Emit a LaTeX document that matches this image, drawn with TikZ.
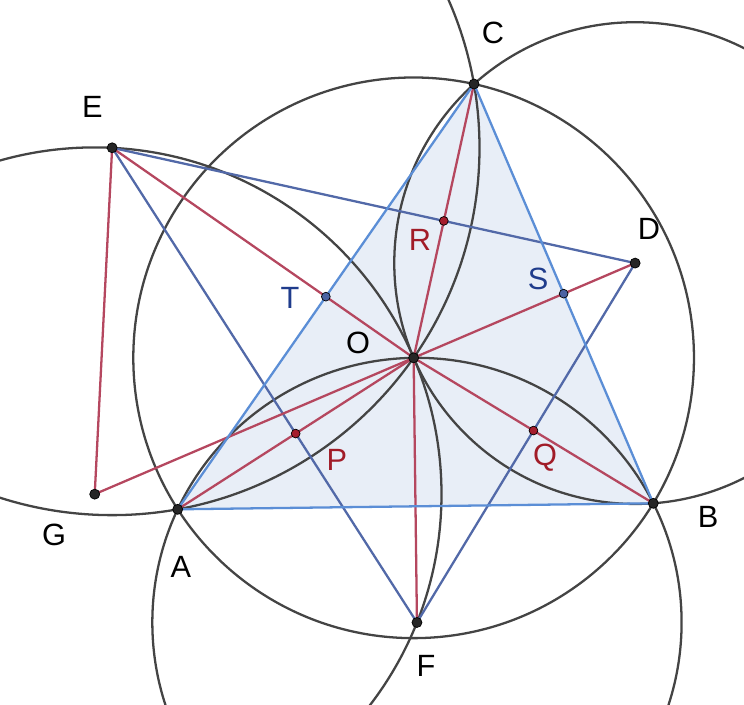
\documentclass[tikz,border=0pt]{standalone}
\usepackage{fontspec}
\setmainfont{Liberation Sans}

\definecolor{circgray}{HTML}{444444}
\definecolor{redline}{HTML}{B5475F}
\definecolor{redpt}{HTML}{A51D2D}
\definecolor{abcblue}{HTML}{5B8ED6}
\definecolor{defblue}{HTML}{5269A8}
\definecolor{abcfill}{HTML}{E8EEF7}
\definecolor{lblblue}{HTML}{1F3C8C}
\definecolor{lblred}{HTML}{A11C28}

\tikzset{
	circ/.style={circgray,line width=1.3pt},
	redseg/.style={redline,line width=1.3pt},
	abcseg/.style={abcblue,line width=1.3pt},
	defseg/.style={defblue,line width=1.3pt},
	pt/.style={circle,fill=black!85,draw=black,line width=0.4pt,inner sep=0pt,minimum size=5.7pt},
	redpt/.style={pt,fill=redpt,minimum size=5pt},
	bluept/.style={pt,fill=lblblue!80,minimum size=5pt},
	lbl/.style={font=\fontsize{17.5}{20}\selectfont,inner sep=0pt},
}

\begin{document}
\begin{tikzpicture}[x=0.02cm,y=-0.02cm]
				\useasboundingbox (0,0) rectangle (744,704);
				\clip (0,0) rectangle (744,704);
				\coordinate (A) at (177.7,509.3);
				\coordinate (B) at (653.3,503.3);
				\coordinate (C) at (474,84);
				\coordinate (O) at (413.63,357.80);
				\coordinate (D) at (635.14,263.08);
				\coordinate (E) at (112.14,147.77);
				\coordinate (F) at (416.96,622.46);
				\coordinate (G) at (94.73,494.16);
				\coordinate (P) at (295.67,433.55);
				\coordinate (Q) at (533.47,430.55);
				\coordinate (R) at (443.82,220.90);
				\coordinate (S) at (563.65,293.65);
				\coordinate (T) at (325.85,296.65);
				
				\fill[abcfill] (A) -- (B) -- (C) -- cycle;
				
				\draw[circ] (O) circle[radius=5.6076cm];
				\draw[circ] (D) circle[radius=4.8182cm];
				\draw[circ] (E) circle[radius=7.3486cm];
				\draw[circ] (F) circle[radius=5.2936cm];
				\draw[circ] (G) circle[radius=6.9366cm];
				
				\draw[defseg] (E) -- (D) -- (F) -- cycle;
				
				\draw[redseg] (E) -- (G) -- (O);
				\draw[redseg] (E) -- (O) -- (D);
				\draw[redseg] (A) -- (O) -- (B);
				\draw[redseg] (C) -- (O) -- (F);
				
				\draw[abcseg] (A) -- (B) -- (C) -- cycle;
				
				\foreach \p in {A,B,C,D,E,F,G,O}
					\node[pt] (dot\p) at (\p) {};
				\foreach \p in {P,Q,R}
					\node[redpt] (dot\p) at (\p) {};
				\foreach \p in {S,T}
					\node[bluept] (dot\p) at (\p) {};
				
				\node[lbl] (lblA) at (181,567) {A};
				\node[lbl] (lblB) at (708,517) {B};
				\node[lbl] (lblC) at (493,33) {C};
				\node[lbl] (lblD) at (649,229) {D};
				\node[lbl] (lblE) at (92.5,106.5) {E};
				\node[lbl] (lblF) at (426,666) {F};
				\node[lbl] (lblG) at (54,535) {G};
				\node[lbl] (lblO) at (358,343) {O};
				\node[lbl,text=lblred] (lblP) at (337,460) {P};
				\node[lbl,text=lblred] (lblQ) at (545,458) {Q};
				\node[lbl,text=lblred] (lblR) at (420,240) {R};
				\node[lbl,text=lblblue] (lblS) at (538,279) {S};
				\node[lbl,text=lblblue] (lblT) at (290,298) {T};
			\end{tikzpicture}
\end{document}
